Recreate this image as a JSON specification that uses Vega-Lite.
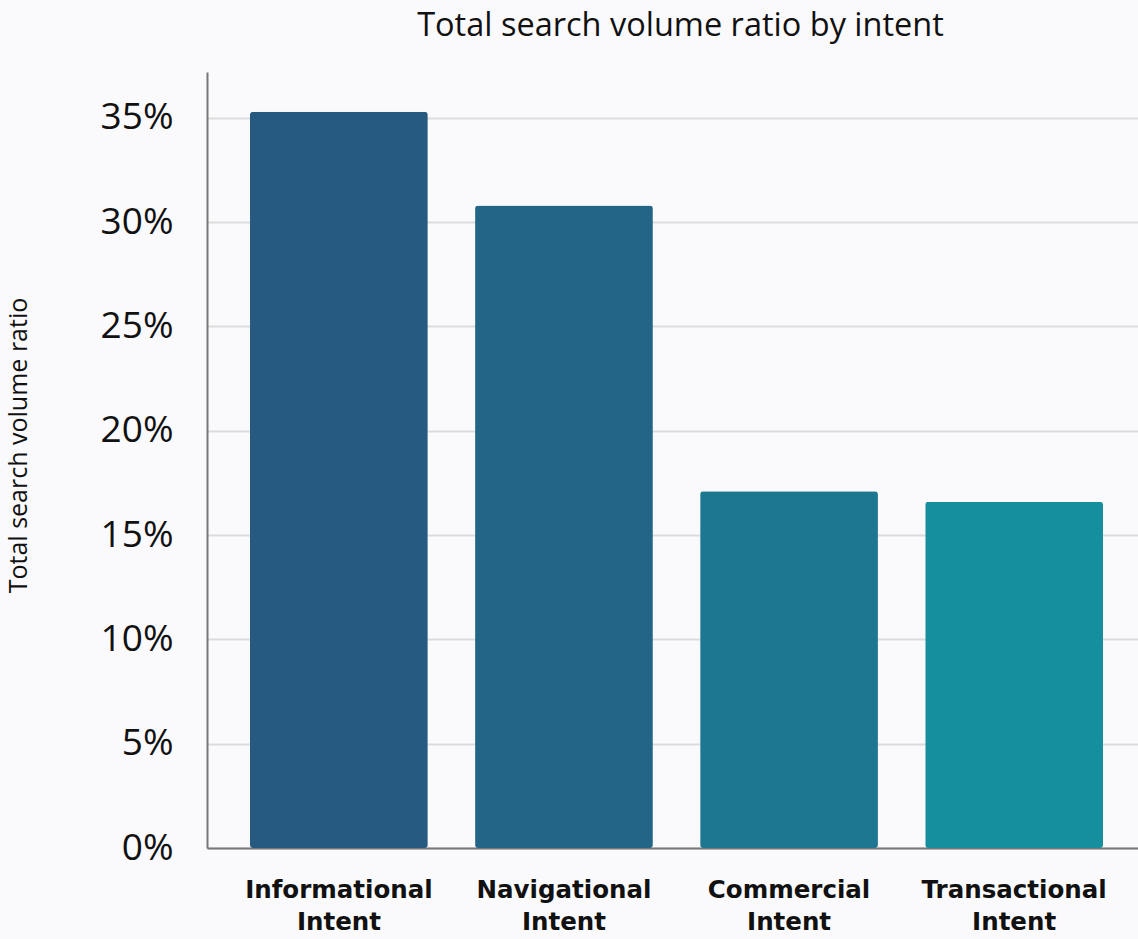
{
  "$schema": "https://vega.github.io/schema/vega-lite/v6.json",
  "autosize": "none",
  "width": 939,
  "height": 776,
  "padding": {"left": 207, "top": 72, "right": 0, "bottom": 91},
  "background": "#fafafc",
  "title": {
    "text": "Total search volume ratio by intent",
    "font": "Open Sans",
    "fontSize": 32.5,
    "fontWeight": "normal",
    "color": "#111111",
    "anchor": "middle",
    "baseline": "bottom",
    "offset": -3,
    "dx": 4
  },
  "data": {
    "values": [
      {"intent": "Informational Intent", "ratio": 0.353},
      {"intent": "Navigational Intent", "ratio": 0.308},
      {"intent": "Commercial Intent", "ratio": 0.171},
      {"intent": "Transactional Intent", "ratio": 0.166}
    ]
  },
  "mark": {"type": "bar", "cornerRadius": 3},
  "encoding": {
    "x": {
      "field": "intent",
      "type": "nominal",
      "sort": null,
      "scale": {"paddingInner": 0.21, "paddingOuter": 0.191},
      "axis": {
        "title": null,
        "labelAngle": 0,
        "labelExpr": "split(datum.value, ' ')",
        "labelFont": "DejaVu Sans",
        "labelFontWeight": "bold",
        "labelFontSize": 24.5,
        "labelLineHeight": 32,
        "labelLimit": 0,
        "labelOverlap": false,
        "labelColor": "#111111",
        "labelPadding": 30,
        "ticks": false,
        "domainColor": "#777777",
        "domainWidth": 2,
        "grid": false
      }
    },
    "y": {
      "field": "ratio",
      "type": "quantitative",
      "scale": {"domain": [0, 0.372], "nice": false},
      "axis": {
        "title": "Total search volume ratio",
        "titleFont": "Open Sans",
        "titleFontSize": 25,
        "titleFontWeight": "normal",
        "titleColor": "#111111",
        "titleX": -189,
        "titleY": 373,
        "titleAngle": -90,
        "titleBaseline": "middle",
        "titleAlign": "center",
        "values": [0, 0.05, 0.1, 0.15, 0.2, 0.25, 0.3, 0.35],
        "format": ".0%",
        "labelFont": "Open Sans",
        "labelFontSize": 37,
        "labelColor": "#111111",
        "labelPadding": 34,
        "ticks": false,
        "domainColor": "#777777",
        "domainWidth": 2,
        "grid": true,
        "gridColor": "#dcdcdc",
        "gridWidth": 2
      }
    },
    "color": {
      "field": "intent",
      "type": "nominal",
      "sort": null,
      "scale": {"range": ["#275a80", "#226587", "#1e7791", "#158e9e"]},
      "legend": null
    }
  },
  "config": {"view": {"stroke": null}}
}
